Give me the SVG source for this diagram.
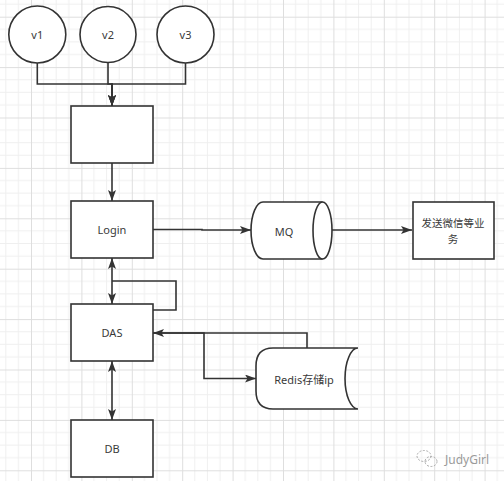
<svg xmlns="http://www.w3.org/2000/svg" width="504" height="481" viewBox="0 0 504 481">
<style>
.sh{fill:#fff;stroke:#333;stroke-width:1.6}
.ln{fill:none;stroke:#333;stroke-width:1.6}
.t{font-family:"Noto Sans","Noto Sans CJK SC",sans-serif;font-size:11px;fill:#3a3a3a;text-anchor:middle;dominant-baseline:central}
.wm{font-family:"Noto Sans",sans-serif;font-size:12px;fill:#9a9a9a;dominant-baseline:central}
</style>
<defs>
<pattern id="grid" patternUnits="userSpaceOnUse" x="31" y="16.7" width="50.4" height="50.4">
<path d="M12.6,0V50.4M25.2,0V50.4M37.8,0V50.4M0,12.6H50.4M0,25.2H50.4M0,37.8H50.4" fill="none" stroke="#efefef" stroke-width="1"/>
<path d="M0.5,0V50.4M0,0.5H50.4" fill="none" stroke="#dedede" stroke-width="1"/>
</pattern>
<marker id="ar" viewBox="0 0 11 8" refX="11" refY="4" markerWidth="11" markerHeight="8" markerUnits="userSpaceOnUse" orient="auto-start-reverse">
<path d="M0,0L11,4L0,8L2.5,4Z" fill="#333"/>
</marker>
</defs>
<rect width="504" height="481" fill="#fff"/>
<rect width="504" height="481" fill="url(#grid)"/>

<g id="connectors">
<path class="ln" d="M37.3,63V84H112V106" marker-end="url(#ar)"/>
<path class="ln" d="M108,63V84H112V106" marker-end="url(#ar)"/>
<path class="ln" d="M185.5,63V84H112V106" marker-end="url(#ar)"/>
<path class="ln" d="M112,163V201" marker-end="url(#ar)"/>
<path class="ln" d="M153,229.5H202V230H251" marker-end="url(#ar)"/>
<path class="ln" d="M332,230H412" marker-end="url(#ar)"/>
<path class="ln" d="M112,258V304" marker-start="url(#ar)" marker-end="url(#ar)"/>
<path class="ln" d="M112,281H176V310H153"/>
<path class="ln" d="M307,348V333H153" marker-end="url(#ar)"/>
<path class="ln" d="M153,333H204V378.5H256" marker-end="url(#ar)"/>
<path class="ln" d="M112,361V420" marker-start="url(#ar)" marker-end="url(#ar)"/>
</g>

<g id="v1"><circle class="sh" cx="37.3" cy="34.5" r="28.5"/><text class="t" x="37.3" y="34.5">v1</text></g>
<g id="v2"><circle class="sh" cx="108" cy="34.5" r="28"/><text class="t" x="108" y="34.5">v2</text></g>
<g id="v3"><circle class="sh" cx="185.5" cy="34.5" r="28.5"/><text class="t" x="185.5" y="34.5">v3</text></g>
<g id="box1"><rect class="sh" x="71" y="106" width="82" height="57"/></g>
<g id="login"><rect class="sh" x="71" y="201" width="82" height="57"/><text class="t" x="112" y="229.5">Login</text></g>
<g id="das"><rect class="sh" x="71" y="304" width="82" height="57"/><text class="t" x="112" y="332.5">DAS</text></g>
<g id="db"><rect class="sh" x="71" y="420" width="82" height="57"/><text class="t" x="112" y="448.5">DB</text></g>
<g id="mq">
<path class="sh" d="M263,202H322.5A9.5,28.5 0 0 1 322.5,259H263A12,28.5 0 0 1 263,202Z"/>
<path class="ln" d="M322.5,202A9.5,28.5 0 0 0 322.5,259"/>
<text class="t" x="284" y="231">MQ</text>
</g>
<g id="wechat"><rect class="sh" x="413" y="202" width="81" height="57"/><text class="t" x="453" y="223" style="font-size:10.5px">发送微信等业</text><text class="t" x="453" y="238.5" style="font-size:10.5px">务</text></g>
<g id="redis">
<path class="sh" d="M273,348H358A13,30.5 0 0 0 358,409H273Q256,409 256,391V366Q256,348 273,348Z"/>
<text class="t" x="304" y="379">Redis存储ip</text>
</g>
<g id="watermark">
<ellipse cx="424" cy="456" rx="7" ry="5.5" fill="none" stroke="#aaa" stroke-width="1" stroke-dasharray="2,1.5"/>
<ellipse cx="431" cy="461.5" rx="6" ry="5" fill="none" stroke="#aaa" stroke-width="1" stroke-dasharray="2,1.5"/>
<text class="wm" x="445" y="459">JudyGirl</text>
</g>
</svg>
